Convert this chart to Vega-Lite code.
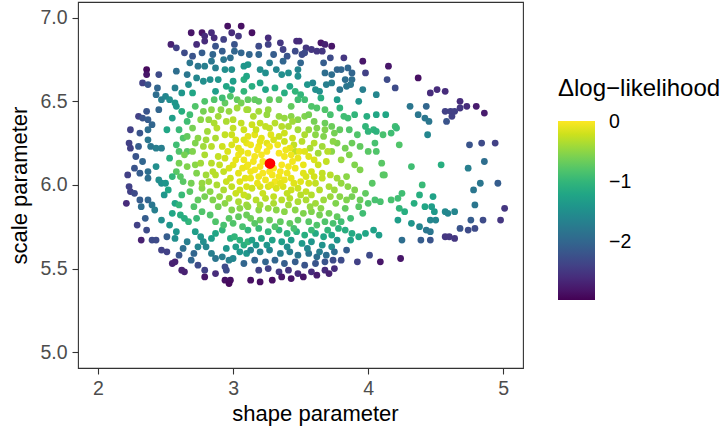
{
"$schema":"https://vega.github.io/schema/vega-lite/v6.json",
"width":445,"height":366,
"autosize":{"type":"none"},
"padding":{"left":78,"top":2,"right":202,"bottom":63},
"config":{
"font":"Liberation Sans",
"view":{"stroke":"#333333","strokeWidth":1.1},
"axis":{"grid":false,"domain":false,"tickColor":"#333333","tickSize":6,"tickWidth":1.1,"labelColor":"#4d4d4d","labelFontSize":19.5,"titleFontSize":22,"titleFontWeight":"normal","titleColor":"black","labelPadding":5},
"legend":{"orient":"none","legendX":480,"legendY":75,"gradientLength":179,"gradientThickness":37,"gradientStrokeWidth":0,"titleFontSize":24,"titleFontWeight":"normal","titleColor":"black","labelFontSize":19.5,"labelColor":"black","labelOffset":14,"titlePadding":20,"direction":"vertical"}
},
"datasets":{
"pts":[
{"x":2.69,"y":6.91,"d":-2.8},{"x":2.77,"y":6.91,"d":-2.8},{"x":2.79,"y":6.89,"d":-2.6},{"x":2.84,"y":6.91,"d":-2.6},{"x":2.86,"y":6.88,"d":-2.6},{"x":2.96,"y":6.95,"d":-2.85},{"x":2.99,"y":6.91,"d":-2.6},{"x":3.06,"y":6.95,"d":-2.85},{"x":3.04,"y":6.89,"d":-2.5},{"x":2.54,"y":6.84,"d":-2.7},{"x":2.58,"y":6.82,"d":-2.4},{"x":2.73,"y":6.84,"d":-2.6},{"x":2.79,"y":6.86,"d":-2.6},{"x":2.87,"y":6.83,"d":-2.2},{"x":2.93,"y":6.87,"d":-2.4},{"x":3.01,"y":6.84,"d":-2.2},{"x":3.01,"y":6.8,"d":-2.0},{"x":3.06,"y":6.79,"d":-2.0},{"x":2.64,"y":6.79,"d":-2.3},{"x":2.77,"y":6.79,"d":-2.1},{"x":2.85,"y":6.78,"d":-2.0},{"x":2.84,"y":6.74,"d":-1.8},{"x":2.93,"y":6.75,"d":-1.8},{"x":2.98,"y":6.76,"d":-1.9},{"x":2.68,"y":6.73,"d":-1.8},{"x":2.74,"y":6.71,"d":-1.8},{"x":2.79,"y":6.71,"d":-1.7},{"x":2.87,"y":6.7,"d":-1.7},{"x":2.94,"y":6.69,"d":-1.5},{"x":2.99,"y":6.69,"d":-1.5},{"x":3.08,"y":6.71,"d":-1.4},{"x":2.36,"y":6.69,"d":-2.9},{"x":2.36,"y":6.66,"d":-2.8},{"x":2.45,"y":6.66,"d":-2.3},{"x":2.58,"y":6.68,"d":-1.9},{"x":2.66,"y":6.66,"d":-1.8},{"x":2.73,"y":6.64,"d":-1.6},{"x":2.78,"y":6.62,"d":-1.5},{"x":2.83,"y":6.63,"d":-1.5},{"x":2.89,"y":6.63,"d":-1.4},{"x":3.0,"y":6.62,"d":-1.3},{"x":3.08,"y":6.63,"d":-1.1},{"x":2.33,"y":6.61,"d":-2.4},{"x":2.37,"y":6.6,"d":-2.2},{"x":2.44,"y":6.58,"d":-2.0},{"x":2.57,"y":6.58,"d":-1.7},{"x":2.67,"y":6.6,"d":-1.5},{"x":2.87,"y":6.56,"d":-1.3},{"x":2.99,"y":6.57,"d":-1.2},{"x":3.08,"y":6.56,"d":-1.0},{"x":2.43,"y":6.54,"d":-1.9},{"x":2.47,"y":6.51,"d":-1.7},{"x":2.5,"y":6.53,"d":-1.6},{"x":2.53,"y":6.51,"d":-1.5},{"x":2.57,"y":6.49,"d":-1.4},{"x":2.58,"y":6.47,"d":-1.4},{"x":2.72,"y":6.47,"d":-0.8},{"x":2.79,"y":6.5,"d":-0.8},{"x":2.86,"y":6.51,"d":-0.8},{"x":2.94,"y":6.49,"d":-0.7},{"x":2.98,"y":6.53,"d":-0.8},{"x":3.03,"y":6.51,"d":-0.7},{"x":3.06,"y":6.49,"d":-0.6},{"x":2.36,"y":6.44,"d":-2.2},{"x":2.3,"y":6.41,"d":-2.4},{"x":2.33,"y":6.4,"d":-2.2},{"x":2.37,"y":6.39,"d":-2.1},{"x":2.4,"y":6.36,"d":-2.0},{"x":2.78,"y":6.44,"d":-0.6},{"x":2.84,"y":6.45,"d":-0.5},{"x":2.91,"y":6.45,"d":-0.5},{"x":2.97,"y":6.44,"d":-0.45},{"x":3.03,"y":6.46,"d":-0.4},{"x":3.1,"y":6.45,"d":-0.35},{"x":2.51,"y":6.33,"d":-1.2},{"x":2.24,"y":6.33,"d":-2.4},{"x":2.31,"y":6.31,"d":-2.2},{"x":2.37,"y":6.33,"d":-1.9},{"x":2.76,"y":6.39,"d":-0.5},{"x":2.82,"y":6.39,"d":-0.45},{"x":2.89,"y":6.41,"d":-0.4},{"x":3.0,"y":6.39,"d":-0.3},{"x":3.06,"y":6.37,"d":-0.25},{"x":2.23,"y":6.25,"d":-2.4},{"x":2.24,"y":6.22,"d":-2.4},{"x":2.3,"y":6.23,"d":-2.1},{"x":2.37,"y":6.27,"d":-1.8},{"x":2.39,"y":6.23,"d":-1.8},{"x":2.43,"y":6.22,"d":-1.7},{"x":2.47,"y":6.22,"d":-1.7},{"x":2.58,"y":6.24,"d":-0.9},{"x":2.63,"y":6.28,"d":-0.8},{"x":2.66,"y":6.29,"d":-0.7},{"x":2.74,"y":6.28,"d":-0.5},{"x":2.81,"y":6.32,"d":-0.4},{"x":2.88,"y":6.34,"d":-0.3},{"x":2.87,"y":6.28,"d":-0.35},{"x":2.94,"y":6.3,"d":-0.25},{"x":2.99,"y":6.3,"d":-0.2},{"x":2.78,"y":6.23,"d":-0.4},{"x":2.84,"y":6.23,"d":-0.3},{"x":2.92,"y":6.23,"d":-0.2},{"x":2.99,"y":6.24,"d":-0.15},{"x":3.04,"y":6.22,"d":-0.1},{"x":3.1,"y":6.25,"d":-0.08},{"x":2.66,"y":6.2,"d":-0.75},{"x":2.6,"y":6.2,"d":-0.8},
{"x":3.14,"y":6.91,"d":-2.85},{"x":3.26,"y":6.88,"d":-2.6},{"x":3.35,"y":6.85,"d":-2.5},{"x":3.47,"y":6.86,"d":-2.6},{"x":3.49,"y":6.86,"d":-2.6},{"x":3.65,"y":6.85,"d":-2.8},{"x":3.68,"y":6.84,"d":-2.7},{"x":3.73,"y":6.83,"d":-2.8},{"x":3.26,"y":6.84,"d":-2.4},{"x":3.19,"y":6.83,"d":-2.3},{"x":3.37,"y":6.81,"d":-2.4},{"x":3.54,"y":6.82,"d":-2.5},{"x":3.58,"y":6.81,"d":-2.5},{"x":3.62,"y":6.8,"d":-2.5},{"x":3.66,"y":6.8,"d":-2.5},{"x":3.4,"y":6.77,"d":-2.2},{"x":3.51,"y":6.78,"d":-2.3},{"x":3.53,"y":6.79,"d":-2.3},{"x":3.19,"y":6.78,"d":-2.0},{"x":3.82,"y":6.76,"d":-2.5},{"x":3.96,"y":6.74,"d":-2.8},{"x":3.37,"y":6.74,"d":-2.0},{"x":3.5,"y":6.73,"d":-2.0},{"x":3.67,"y":6.73,"d":-2.1},{"x":3.11,"y":6.72,"d":-1.4},{"x":3.27,"y":6.73,"d":-1.7},{"x":3.2,"y":6.69,"d":-1.5},{"x":3.24,"y":6.67,"d":-1.5},{"x":3.32,"y":6.69,"d":-1.6},{"x":3.36,"y":6.66,"d":-1.5},{"x":3.41,"y":6.67,"d":-1.5},{"x":3.48,"y":6.69,"d":-1.6},{"x":3.48,"y":6.65,"d":-1.5},{"x":3.68,"y":6.67,"d":-1.9},{"x":3.73,"y":6.66,"d":-1.9},{"x":3.77,"y":6.69,"d":-2.0},{"x":3.8,"y":6.69,"d":-2.0},{"x":3.85,"y":6.7,"d":-2.0},{"x":3.88,"y":6.67,"d":-2.0},{"x":3.98,"y":6.67,"d":-2.4},{"x":3.1,"y":6.65,"d":-1.2},{"x":3.83,"y":6.63,"d":-1.9},{"x":3.88,"y":6.63,"d":-1.9},{"x":3.59,"y":6.61,"d":-1.6},{"x":3.61,"y":6.57,"d":-1.5},{"x":3.64,"y":6.56,"d":-1.5},{"x":3.69,"y":6.6,"d":-1.7},{"x":3.73,"y":6.61,"d":-1.7},{"x":3.79,"y":6.57,"d":-1.8},{"x":3.84,"y":6.59,"d":-1.8},{"x":3.87,"y":6.6,"d":-1.8},{"x":3.14,"y":6.59,"d":-1.1},{"x":3.2,"y":6.61,"d":-1.2},{"x":3.24,"y":6.57,"d":-1.2},{"x":3.31,"y":6.58,"d":-1.1},{"x":3.46,"y":6.56,"d":-1.0},{"x":3.5,"y":6.54,"d":-1.0},{"x":3.48,"y":6.51,"d":-0.9},{"x":3.53,"y":6.51,"d":-0.9},{"x":4.06,"y":6.54,"d":-1.6},{"x":3.77,"y":6.51,"d":-1.3},{"x":3.93,"y":6.5,"d":-1.4},{"x":3.11,"y":6.51,"d":-0.7},{"x":3.16,"y":6.51,"d":-0.7},{"x":3.19,"y":6.5,"d":-0.7},{"x":3.27,"y":6.51,"d":-0.7},{"x":3.34,"y":6.51,"d":-0.7},{"x":3.62,"y":6.46,"d":-0.8},{"x":3.68,"y":6.45,"d":-0.8},{"x":3.79,"y":6.46,"d":-1.0},{"x":3.82,"y":6.41,"d":-0.9},{"x":3.85,"y":6.4,"d":-0.9},{"x":3.99,"y":6.41,"d":-1.1},{"x":4.06,"y":6.42,"d":-1.2},{"x":3.11,"y":6.45,"d":-0.4},{"x":3.19,"y":6.44,"d":-0.4},{"x":3.26,"y":6.45,"d":-0.45},{"x":3.34,"y":6.41,"d":-0.45},{"x":3.38,"y":6.4,"d":-0.45},{"x":3.43,"y":6.41,"d":-0.5},{"x":3.48,"y":6.39,"d":-0.5},{"x":3.53,"y":6.41,"d":-0.55},{"x":3.56,"y":6.42,"d":-0.6},{"x":3.68,"y":6.37,"d":-0.65},{"x":3.73,"y":6.35,"d":-0.65},{"x":3.79,"y":6.33,"d":-0.7},{"x":3.98,"y":6.35,"d":-1.0},{"x":4.0,"y":6.32,"d":-1.0},{"x":4.04,"y":6.33,"d":-1.0},{"x":4.06,"y":6.32,"d":-1.05},{"x":3.92,"y":6.3,"d":-0.8},{"x":3.14,"y":6.36,"d":-0.2},{"x":3.2,"y":6.37,"d":-0.25},{"x":3.24,"y":6.35,"d":-0.25},{"x":3.31,"y":6.37,"d":-0.3},{"x":3.36,"y":6.35,"d":-0.3},{"x":3.41,"y":6.35,"d":-0.35},{"x":3.48,"y":6.33,"d":-0.4},{"x":3.56,"y":6.33,"d":-0.45},{"x":3.61,"y":6.3,"d":-0.5},{"x":3.67,"y":6.29,"d":-0.55},{"x":3.75,"y":6.31,"d":-0.6},{"x":3.77,"y":6.25,"d":-0.55},{"x":3.11,"y":6.29,"d":-0.1},{"x":3.16,"y":6.3,"d":-0.1},{"x":3.21,"y":6.28,"d":-0.1},{"x":3.13,"y":6.24,"d":-0.05},{"x":3.19,"y":6.23,"d":-0.05},{"x":3.25,"y":6.25,"d":-0.1},{"x":3.3,"y":6.27,"d":-0.15},{"x":3.34,"y":6.29,"d":-0.2},{"x":3.38,"y":6.26,"d":-0.2},{"x":3.45,"y":6.24,"d":-0.25},{"x":3.51,"y":6.26,"d":-0.3},{"x":3.46,"y":6.2,"d":-0.25},{"x":3.57,"y":6.22,"d":-0.35},{"x":3.66,"y":6.23,"d":-0.4},{"x":3.63,"y":6.19,"d":-0.4},{"x":3.73,"y":6.2,"d":-0.5},{"x":3.83,"y":6.22,"d":-0.6},{"x":3.88,"y":6.25,"d":-0.65},{"x":3.94,"y":6.23,"d":-0.7},{"x":4.0,"y":6.2,"d":-0.75},{"x":4.05,"y":6.25,"d":-0.85},
{"x":4.15,"y":6.71,"d":-2.8},{"x":4.14,"y":6.63,"d":-2.3},{"x":4.2,"y":6.58,"d":-2.3},{"x":4.37,"y":6.64,"d":-2.85},{"x":4.46,"y":6.55,"d":-2.6},{"x":4.51,"y":6.57,"d":-2.6},{"x":4.57,"y":6.56,"d":-2.6},{"x":4.68,"y":6.5,"d":-2.6},{"x":4.73,"y":6.47,"d":-2.6},{"x":4.8,"y":6.47,"d":-2.75},{"x":4.86,"y":6.43,"d":-2.75},{"x":4.68,"y":6.46,"d":-2.5},{"x":4.57,"y":6.44,"d":-2.4},{"x":4.61,"y":6.44,"d":-2.4},{"x":4.64,"y":6.44,"d":-2.4},{"x":4.62,"y":6.41,"d":-2.4},{"x":4.58,"y":6.38,"d":-2.2},{"x":4.31,"y":6.47,"d":-1.8},{"x":4.43,"y":6.47,"d":-2.0},{"x":4.37,"y":6.42,"d":-1.8},{"x":4.42,"y":6.4,"d":-1.8},{"x":4.45,"y":6.38,"d":-1.8},{"x":4.44,"y":6.3,"d":-1.6},{"x":4.13,"y":6.42,"d":-1.2},{"x":4.17,"y":6.31,"d":-0.9},{"x":4.2,"y":6.35,"d":-0.9},{"x":4.21,"y":6.34,"d":-0.95},{"x":4.11,"y":6.3,"d":-0.85},{"x":4.23,"y":6.24,"d":-0.8},{"x":4.75,"y":6.24,"d":-2.2},{"x":4.84,"y":6.25,"d":-2.3},{"x":4.94,"y":6.25,"d":-2.4},{"x":4.06,"y":6.2,"d":-0.8},
{"x":2.22,"y":6.06,"d":-2.4},{"x":2.31,"y":6.07,"d":-2.1},{"x":2.37,"y":6.08,"d":-1.9},{"x":2.37,"y":6.04,"d":-1.9},{"x":2.43,"y":6.11,"d":-1.5},{"x":2.45,"y":6.03,"d":-1.5},{"x":2.47,"y":6.01,"d":-1.5},{"x":2.5,"y":6.01,"d":-1.4},{"x":2.23,"y":5.99,"d":-2.4},{"x":2.24,"y":5.96,"d":-2.4},{"x":2.27,"y":5.95,"d":-2.3},{"x":2.21,"y":5.89,"d":-2.6},{"x":2.31,"y":5.91,"d":-2.1},{"x":2.37,"y":5.91,"d":-2.0},{"x":2.32,"y":5.87,"d":-1.9},{"x":2.4,"y":5.88,"d":-1.8},{"x":2.49,"y":5.94,"d":-1.4},{"x":2.42,"y":5.85,"d":-1.7},{"x":2.57,"y":5.89,"d":-1.2},{"x":2.58,"y":6.08,"d":-0.75},{"x":2.61,"y":6.05,"d":-0.75},{"x":2.63,"y":6.02,"d":-0.75},{"x":2.6,"y":6.13,"d":-0.6},{"x":2.64,"y":6.18,"d":-0.6},{"x":2.66,"y":6.11,"d":-0.55},{"x":2.72,"y":6.12,"d":-0.5},{"x":2.73,"y":6.07,"d":-0.55},{"x":2.69,"y":6.01,"d":-0.6},{"x":2.79,"y":6.18,"d":-0.35},{"x":2.84,"y":6.13,"d":-0.3},{"x":2.89,"y":6.17,"d":-0.25},{"x":2.94,"y":6.16,"d":-0.2},{"x":2.87,"y":6.06,"d":-0.3},{"x":2.93,"y":6.08,"d":-0.25},{"x":2.98,"y":6.04,"d":-0.2},{"x":3.0,"y":6.12,"d":-0.1},{"x":3.04,"y":6.18,"d":-0.05},{"x":3.08,"y":6.15,"d":-0.05},{"x":3.1,"y":6.11,"d":-0.05},{"x":3.04,"y":6.07,"d":-0.1},{"x":3.09,"y":6.04,"d":-0.1},{"x":2.99,"y":5.99,"d":-0.25},{"x":3.05,"y":5.97,"d":-0.2},{"x":3.1,"y":5.99,"d":-0.15},{"x":2.82,"y":6.02,"d":-0.4},{"x":2.88,"y":6.0,"d":-0.35},{"x":2.93,"y":5.97,"d":-0.35},{"x":2.77,"y":5.98,"d":-0.5},{"x":2.8,"y":6.06,"d":-0.4},{"x":2.74,"y":5.91,"d":-0.7},{"x":2.79,"y":5.93,"d":-0.6},{"x":2.85,"y":5.91,"d":-0.55},{"x":2.89,"y":5.87,"d":-0.6},{"x":2.94,"y":5.89,"d":-0.5},{"x":2.99,"y":5.85,"d":-0.55},{"x":3.05,"y":5.86,"d":-0.5},{"x":3.1,"y":5.88,"d":-0.4},{"x":2.71,"y":5.87,"d":-0.8},{"x":2.77,"y":5.84,"d":-0.8},{"x":2.83,"y":5.82,"d":-0.8},{"x":2.73,"y":5.8,"d":-0.95},{"x":2.67,"y":5.78,"d":-1.0},{"x":2.87,"y":5.78,"d":-0.8},{"x":2.97,"y":5.8,"d":-0.75},{"x":3.04,"y":5.81,"d":-0.7},{"x":3.1,"y":5.82,"d":-0.65},{"x":2.55,"y":5.83,"d":-1.2},{"x":2.61,"y":5.82,"d":-1.1},{"x":2.64,"y":5.8,"d":-1.1},{"x":2.47,"y":5.79,"d":-1.5},{"x":2.53,"y":5.76,"d":-1.4},{"x":2.58,"y":5.72,"d":-1.4},{"x":2.57,"y":5.68,"d":-1.5},{"x":2.72,"y":5.72,"d":-1.3},{"x":2.76,"y":5.69,"d":-1.4},{"x":2.78,"y":5.66,"d":-1.5},{"x":2.8,"y":5.63,"d":-1.6},{"x":2.74,"y":5.63,"d":-1.6},{"x":2.84,"y":5.68,"d":-1.3},{"x":2.87,"y":5.71,"d":-1.2},{"x":2.92,"y":5.73,"d":-1.0},{"x":2.98,"y":5.68,"d":-1.1},{"x":3.01,"y":5.69,"d":-1.0},{"x":3.05,"y":5.67,"d":-1.05},{"x":3.08,"y":5.64,"d":-1.1},{"x":3.11,"y":5.66,"d":-1.0},{"x":2.84,"y":5.59,"d":-1.7},{"x":2.87,"y":5.56,"d":-1.8},{"x":2.92,"y":5.57,"d":-1.7},{"x":2.97,"y":5.55,"d":-1.7},{"x":3.0,"y":5.56,"d":-1.6},{"x":3.05,"y":5.6,"d":-1.4},{"x":3.1,"y":5.59,"d":-1.4},{"x":2.36,"y":5.73,"d":-2.3},{"x":2.32,"y":5.67,"d":-2.7},{"x":2.4,"y":5.67,"d":-2.3},{"x":2.43,"y":5.67,"d":-2.3},{"x":2.51,"y":5.69,"d":-2.1},{"x":2.47,"y":5.61,"d":-2.4},{"x":2.51,"y":5.6,"d":-2.4},{"x":2.55,"y":5.53,"d":-2.7},{"x":2.57,"y":5.54,"d":-2.7},{"x":2.62,"y":5.49,"d":-2.7},{"x":2.64,"y":5.48,"d":-2.7},{"x":2.74,"y":5.52,"d":-2.3},{"x":2.79,"y":5.49,"d":-2.4},{"x":2.79,"y":5.45,"d":-2.8},{"x":2.87,"y":5.47,"d":-2.6},{"x":2.94,"y":5.43,"d":-2.85},{"x":2.98,"y":5.43,"d":-2.85},{"x":2.97,"y":5.41,"d":-2.9},{"x":2.94,"y":5.51,"d":-2.3},{"x":2.95,"y":5.49,"d":-2.3},{"x":3.08,"y":5.53,"d":-2.0},{"x":2.71,"y":5.59,"d":-2.0},{"x":2.69,"y":5.55,"d":-2.0},
{"x":3.11,"y":6.19,"d":-0.05},{"x":3.16,"y":6.17,"d":-0.02},{"x":3.21,"y":6.18,"d":-0.02},{"x":3.34,"y":6.19,"d":-0.02},{"x":3.38,"y":6.17,"d":-0.03},{"x":3.43,"y":6.18,"d":-0.05},{"x":3.48,"y":6.16,"d":-0.08},{"x":3.11,"y":6.12,"d":-0.04},{"x":3.16,"y":6.09,"d":-0.02},{"x":3.2,"y":6.11,"d":-0.01},{"x":3.36,"y":6.12,"d":-0.01},{"x":3.41,"y":6.11,"d":-0.03},{"x":3.46,"y":6.1,"d":-0.05},{"x":3.52,"y":6.12,"d":-0.08},{"x":3.13,"y":6.04,"d":-0.08},{"x":3.19,"y":6.05,"d":-0.05},{"x":3.24,"y":6.03,"d":-0.05},{"x":3.29,"y":6.06,"d":-0.03},{"x":3.34,"y":6.05,"d":-0.04},{"x":3.38,"y":6.03,"d":-0.07},{"x":3.43,"y":6.04,"d":-0.08},{"x":3.5,"y":6.02,"d":-0.12},{"x":3.54,"y":6.05,"d":-0.15},{"x":3.14,"y":5.98,"d":-0.2},{"x":3.2,"y":5.99,"d":-0.15},{"x":3.26,"y":5.99,"d":-0.15},{"x":3.32,"y":5.98,"d":-0.15},{"x":3.37,"y":5.99,"d":-0.15},{"x":3.43,"y":5.97,"d":-0.2},{"x":3.48,"y":5.98,"d":-0.2},{"x":3.54,"y":5.96,"d":-0.25},{"x":3.61,"y":6.01,"d":-0.25},{"x":3.66,"y":6.04,"d":-0.25},{"x":3.72,"y":6.06,"d":-0.3},{"x":3.64,"y":5.97,"d":-0.3},{"x":3.71,"y":5.99,"d":-0.35},{"x":3.58,"y":6.08,"d":-0.18},{"x":3.63,"y":6.12,"d":-0.2},{"x":3.56,"y":6.17,"d":-0.12},
{"x":3.22,"y":6.14,"d":-0.01},{"x":3.3,"y":6.1,"d":0.0},{"x":3.25,"y":6.2,"d":-0.02},{"x":3.31,"y":6.02,"d":-0.04},{"x":3.4,"y":6.07,"d":-0.05},{"x":3.42,"y":6.22,"d":-0.08},{"x":3.15,"y":6.14,"d":-0.03},{"x":3.05,"y":6.02,"d":-0.12},{"x":3.52,"y":6.07,"d":-0.12},
{"x":3.8,"y":6.01,"d":-0.45},{"x":3.85,"y":5.99,"d":-0.5},{"x":3.9,"y":5.97,"d":-0.55},{"x":3.79,"y":5.93,"d":-0.5},{"x":3.84,"y":5.91,"d":-0.55},{"x":3.88,"y":5.93,"d":-0.6},{"x":3.94,"y":5.91,"d":-0.65},{"x":3.98,"y":5.95,"d":-0.7},{"x":3.9,"y":6.12,"d":-0.55},{"x":3.94,"y":6.09,"d":-0.55},{"x":4.03,"y":6.01,"d":-0.75},{"x":4.05,"y":5.91,"d":-0.85},{"x":4.0,"y":5.89,"d":-0.8},{"x":3.93,"y":5.87,"d":-0.75},{"x":3.83,"y":5.86,"d":-0.7},{"x":3.96,"y":5.83,"d":-0.9},
{"x":3.11,"y":5.93,"d":-0.3},{"x":3.17,"y":5.91,"d":-0.3},{"x":3.24,"y":5.92,"d":-0.28},{"x":3.3,"y":5.93,"d":-0.25},{"x":3.36,"y":5.91,"d":-0.3},{"x":3.42,"y":5.92,"d":-0.3},{"x":3.48,"y":5.9,"d":-0.35},{"x":3.54,"y":5.91,"d":-0.35},{"x":3.61,"y":5.89,"d":-0.4},{"x":3.67,"y":5.91,"d":-0.42},{"x":3.72,"y":5.93,"d":-0.42},{"x":3.11,"y":5.87,"d":-0.45},{"x":3.19,"y":5.85,"d":-0.5},{"x":3.26,"y":5.86,"d":-0.45},{"x":3.32,"y":5.85,"d":-0.5},{"x":3.38,"y":5.84,"d":-0.5},{"x":3.46,"y":5.85,"d":-0.5},{"x":3.52,"y":5.83,"d":-0.55},{"x":3.58,"y":5.84,"d":-0.55},{"x":3.64,"y":5.82,"d":-0.6},{"x":3.71,"y":5.83,"d":-0.62},{"x":3.77,"y":5.81,"d":-0.7},{"x":3.13,"y":5.8,"d":-0.65},{"x":3.2,"y":5.79,"d":-0.65},{"x":3.27,"y":5.79,"d":-0.65},{"x":3.35,"y":5.78,"d":-0.7},{"x":3.42,"y":5.77,"d":-0.7},{"x":3.48,"y":5.79,"d":-0.7},{"x":3.56,"y":5.78,"d":-0.75},{"x":3.62,"y":5.76,"d":-0.8},{"x":3.68,"y":5.78,"d":-0.8},{"x":3.74,"y":5.77,"d":-0.85},{"x":3.8,"y":5.78,"d":-0.9},{"x":3.87,"y":5.8,"d":-0.9},
{"x":3.83,"y":5.73,"d":-1.1},{"x":3.88,"y":5.71,"d":-1.15},{"x":3.93,"y":5.69,"d":-1.2},{"x":3.87,"y":5.67,"d":-1.25},{"x":3.98,"y":5.71,"d":-1.2},{"x":4.04,"y":5.73,"d":-1.25},
{"x":3.11,"y":5.73,"d":-1.0},{"x":3.19,"y":5.74,"d":-0.95},{"x":3.26,"y":5.72,"d":-1.0},{"x":3.34,"y":5.73,"d":-1.0},{"x":3.4,"y":5.71,"d":-1.05},{"x":3.47,"y":5.72,"d":-1.05},{"x":3.53,"y":5.7,"d":-1.1},{"x":3.61,"y":5.71,"d":-1.15},{"x":3.67,"y":5.69,"d":-1.2},{"x":3.73,"y":5.7,"d":-1.2},{"x":3.14,"y":5.67,"d":-1.25},{"x":3.21,"y":5.68,"d":-1.2},{"x":3.29,"y":5.67,"d":-1.25},{"x":3.36,"y":5.66,"d":-1.3},{"x":3.43,"y":5.67,"d":-1.3},{"x":3.51,"y":5.65,"d":-1.35},{"x":3.58,"y":5.66,"d":-1.4},{"x":3.66,"y":5.64,"d":-1.45},{"x":3.73,"y":5.63,"d":-1.5},{"x":3.77,"y":5.67,"d":-1.4},
{"x":3.13,"y":5.61,"d":-1.6},{"x":3.2,"y":5.6,"d":-1.65},{"x":3.27,"y":5.61,"d":-1.6},{"x":3.35,"y":5.59,"d":-1.7},{"x":3.42,"y":5.6,"d":-1.7},{"x":3.48,"y":5.58,"d":-1.8},{"x":3.56,"y":5.59,"d":-1.8},{"x":3.62,"y":5.57,"d":-1.9},{"x":3.69,"y":5.58,"d":-1.9},{"x":3.75,"y":5.6,"d":-1.9},{"x":3.16,"y":5.55,"d":-2.0},{"x":3.24,"y":5.54,"d":-2.0},{"x":3.31,"y":5.55,"d":-2.0},{"x":3.38,"y":5.53,"d":-2.1},{"x":3.46,"y":5.54,"d":-2.1},{"x":3.53,"y":5.52,"d":-2.2},{"x":3.61,"y":5.53,"d":-2.2},{"x":3.68,"y":5.54,"d":-2.2},{"x":3.74,"y":5.55,"d":-2.3},
{"x":3.19,"y":5.49,"d":-2.4},{"x":3.26,"y":5.5,"d":-2.4},{"x":3.34,"y":5.48,"d":-2.5},{"x":3.41,"y":5.49,"d":-2.5},{"x":3.48,"y":5.47,"d":-2.6},{"x":3.58,"y":5.48,"d":-2.6},{"x":3.68,"y":5.49,"d":-2.6},{"x":3.75,"y":5.5,"d":-2.6},{"x":3.13,"y":5.43,"d":-2.85},{"x":3.2,"y":5.42,"d":-2.85},{"x":3.29,"y":5.43,"d":-2.85},{"x":3.36,"y":5.45,"d":-2.8},{"x":3.43,"y":5.44,"d":-2.8},{"x":3.52,"y":5.45,"d":-2.8},{"x":3.62,"y":5.46,"d":-2.75},{"x":3.71,"y":5.47,"d":-2.7},
{"x":3.84,"y":5.61,"d":-2.1},{"x":3.92,"y":5.54,"d":-2.4},{"x":4.01,"y":5.58,"d":-2.3},{"x":3.8,"y":5.55,"d":-2.3},
{"x":4.1,"y":6.13,"d":-0.75},{"x":4.11,"y":6.06,"d":-0.75},{"x":4.12,"y":6.06,"d":-0.75},{"x":4.32,"y":6.11,"d":-0.9},{"x":4.54,"y":6.12,"d":-1.1},{"x":4.74,"y":6.1,"d":-1.7},{"x":4.86,"y":6.14,"d":-1.9},{"x":4.4,"y":6.0,"d":-0.95},{"x":4.83,"y":6.01,"d":-1.8},{"x":4.96,"y":6.01,"d":-2.1},{"x":4.78,"y":5.97,"d":-1.8},{"x":4.25,"y":5.95,"d":-0.9},{"x":4.38,"y":5.94,"d":-1.1},{"x":4.48,"y":5.93,"d":-1.25},{"x":4.09,"y":5.9,"d":-0.85},{"x":4.17,"y":5.91,"d":-0.85},{"x":4.22,"y":5.92,"d":-0.9},{"x":4.34,"y":5.89,"d":-1.1},{"x":4.42,"y":5.87,"d":-1.2},{"x":4.47,"y":5.87,"d":-1.3},{"x":4.23,"y":5.86,"d":-1.0},{"x":4.27,"y":5.84,"d":-1.1},{"x":4.49,"y":5.84,"d":-1.35},{"x":4.57,"y":5.84,"d":-1.55},{"x":4.59,"y":5.83,"d":-1.6},{"x":4.64,"y":5.84,"d":-1.6},{"x":4.79,"y":5.88,"d":-1.8},{"x":5.01,"y":5.86,"d":-2.5},{"x":4.76,"y":5.79,"d":-2.1},{"x":4.85,"y":5.79,"d":-2.3},{"x":4.98,"y":5.79,"d":-2.5},{"x":4.22,"y":5.79,"d":-1.3},{"x":4.32,"y":5.77,"d":-1.4},{"x":4.38,"y":5.75,"d":-1.6},{"x":4.46,"y":5.79,"d":-1.6},{"x":4.5,"y":5.79,"d":-1.6},{"x":4.43,"y":5.73,"d":-1.8},{"x":4.46,"y":5.72,"d":-1.8},{"x":4.68,"y":5.74,"d":-2.2},{"x":4.74,"y":5.73,"d":-2.3},{"x":4.79,"y":5.74,"d":-2.3},{"x":4.08,"y":5.7,"d":-1.3},{"x":4.57,"y":5.69,"d":-2.5},{"x":4.6,"y":5.69,"d":-2.5},{"x":4.64,"y":5.68,"d":-2.5},{"x":4.25,"y":5.67,"d":-1.9},{"x":4.39,"y":5.67,"d":-2.1},{"x":4.46,"y":5.67,"d":-2.2},{"x":4.09,"y":5.54,"d":-2.8},{"x":4.24,"y":5.56,"d":-2.8},
{"x":2.28,"y":6.17,"d":-2.2},{"x":2.33,"y":6.14,"d":-2.0},{"x":2.27,"y":6.1,"d":-2.2},{"x":2.53,"y":6.16,"d":-1.1},{"x":2.55,"y":6.05,"d":-1.0},{"x":2.52,"y":5.97,"d":-1.2},{"x":2.62,"y":5.94,"d":-0.95},{"x":2.68,"y":5.96,"d":-0.75},{"x":2.6,"y":5.88,"d":-1.0},{"x":2.35,"y":5.8,"d":-2.1},{"x":2.29,"y":5.76,"d":-2.4},{"x":2.63,"y":5.62,"d":-1.9},{"x":2.6,"y":5.58,"d":-2.2},{"x":2.66,"y":5.66,"d":-1.7},{"x":2.45,"y":6.45,"d":-2.0},{"x":2.62,"y":6.44,"d":-1.1},{"x":2.66,"y":6.38,"d":-0.9},{"x":2.55,"y":6.4,"d":-1.3},{"x":2.7,"y":6.55,"d":-1.2},{"x":2.62,"y":6.55,"d":-1.4},{"x":2.68,"y":6.42,"d":-0.9},{"x":2.7,"y":6.34,"d":-0.6},{"x":2.6,"y":6.33,"d":-0.95},{"x":2.95,"y":6.59,"d":-1.2},{"x":2.92,"y":6.52,"d":-0.9},{"x":3.55,"y":6.6,"d":-1.4},{"x":3.42,"y":6.59,"d":-1.2},{"x":3.38,"y":6.55,"d":-1.1},{"x":3.58,"y":6.47,"d":-0.8},{"x":3.72,"y":6.42,"d":-0.85},{"x":3.65,"y":6.52,"d":-1.1},{"x":3.43,"y":6.47,"d":-0.7},{"x":3.25,"y":6.42,"d":-0.45},{"x":3.6,"y":6.38,"d":-0.6},{"x":3.86,"y":6.33,"d":-0.8},{"x":3.9,"y":6.42,"d":-1.0},{"x":3.96,"y":6.57,"d":-1.7},{"x":3.72,"y":6.76,"d":-2.3},{"x":3.46,"y":6.8,"d":-2.3},{"x":3.3,"y":6.78,"d":-2.1},{"x":3.12,"y":6.78,"d":-2.0},{"x":2.92,"y":6.8,"d":-2.1},{"x":2.7,"y":6.77,"d":-2.2},
{"x":3.18,"y":6.21,"d":-0.03},{"x":3.27,"y":6.23,"d":-0.03},{"x":3.33,"y":6.24,"d":-0.05},{"x":3.22,"y":6.07,"d":-0.02},{"x":3.27,"y":6.08,"d":-0.01},{"x":3.35,"y":6.08,"d":-0.02},{"x":3.44,"y":6.14,"d":-0.04},{"x":3.49,"y":6.2,"d":-0.08},{"x":3.39,"y":6.21,"d":-0.05},{"x":3.13,"y":6.08,"d":-0.04},{"x":3.07,"y":6.1,"d":-0.06},{"x":3.06,"y":6.2,"d":-0.08},{"x":3.02,"y":6.15,"d":-0.08},{"x":3.18,"y":6.01,"d":-0.08},{"x":3.28,"y":6.0,"d":-0.1},{"x":3.35,"y":6.01,"d":-0.1},{"x":3.45,"y":6.01,"d":-0.12},{"x":3.56,"y":6.01,"d":-0.18},{"x":3.6,"y":6.05,"d":-0.18},{"x":3.6,"y":6.15,"d":-0.15},{"x":3.53,"y":6.2,"d":-0.12},{"x":3.2,"y":6.26,"d":-0.08},{"x":3.28,"y":6.3,"d":-0.12},{"x":3.38,"y":6.31,"d":-0.2},{"x":3.44,"y":6.28,"d":-0.2},{"x":3.08,"y":6.27,"d":-0.12},{"x":3.02,"y":6.27,"d":-0.15},{"x":2.96,"y":6.2,"d":-0.15},{"x":2.97,"y":6.1,"d":-0.15},{"x":2.95,"y":6.02,"d":-0.22},{"x":3.02,"y":5.95,"d":-0.22},{"x":3.08,"y":5.94,"d":-0.22},{"x":3.22,"y":5.95,"d":-0.22},{"x":3.4,"y":5.95,"d":-0.25},{"x":3.5,"y":5.94,"d":-0.3},{"x":3.58,"y":5.94,"d":-0.32},{"x":3.66,"y":6.07,"d":-0.25},{"x":3.69,"y":6.14,"d":-0.25},{"x":3.7,"y":6.2,"d":-0.3},{"x":3.6,"y":6.25,"d":-0.3},{"x":3.53,"y":6.3,"d":-0.35},
{"x":3.0,"y":6.34,"d":-0.25},{"x":3.08,"y":6.33,"d":-0.2},{"x":3.17,"y":6.33,"d":-0.2},{"x":3.27,"y":6.34,"d":-0.25},{"x":3.44,"y":6.38,"d":-0.4},{"x":3.15,"y":6.41,"d":-0.35},{"x":2.95,"y":6.38,"d":-0.35},{"x":2.86,"y":6.37,"d":-0.35},{"x":2.8,"y":6.27,"d":-0.4},{"x":2.9,"y":6.12,"d":-0.25},{"x":2.85,"y":6.08,"d":-0.3},{"x":2.76,"y":6.13,"d":-0.4},{"x":2.7,"y":6.2,"d":-0.55},{"x":2.72,"y":6.25,"d":-0.55},{"x":2.77,"y":6.01,"d":-0.45},{"x":2.83,"y":5.96,"d":-0.5},{"x":2.9,"y":5.93,"d":-0.45},{"x":2.97,"y":5.92,"d":-0.4},{"x":3.04,"y":5.9,"d":-0.35},{"x":3.2,"y":5.88,"d":-0.4},{"x":3.3,"y":5.89,"d":-0.35},{"x":3.41,"y":5.88,"d":-0.4},{"x":3.57,"y":5.87,"d":-0.45},{"x":3.65,"y":5.86,"d":-0.5},{"x":3.76,"y":5.89,"d":-0.55},{"x":3.75,"y":5.97,"d":-0.42},{"x":3.77,"y":6.04,"d":-0.4},{"x":3.84,"y":6.05,"d":-0.5},{"x":3.8,"y":6.15,"d":-0.45},{"x":3.86,"y":6.18,"d":-0.55},{"x":3.74,"y":6.26,"d":-0.5},{"x":3.68,"y":6.33,"d":-0.55},{"x":3.62,"y":6.34,"d":-0.55},
{"x":3.0,"y":5.77,"d":-0.8},{"x":2.93,"y":5.76,"d":-0.85},{"x":3.07,"y":5.75,"d":-0.85},{"x":3.16,"y":5.77,"d":-0.75},{"x":3.31,"y":5.75,"d":-0.8},{"x":3.45,"y":5.74,"d":-0.85},{"x":3.58,"y":5.73,"d":-0.95},{"x":3.7,"y":5.73,"d":-1.0},{"x":3.78,"y":5.74,"d":-1.05},{"x":2.95,"y":5.62,"d":-1.4},{"x":3.02,"y":5.63,"d":-1.3},{"x":3.17,"y":5.64,"d":-1.4},{"x":3.25,"y":5.64,"d":-1.4},{"x":3.4,"y":5.63,"d":-1.5},{"x":3.55,"y":5.62,"d":-1.6},{"x":3.64,"y":5.6,"d":-1.7}
],
"mle":[{"x":3.273,"y":6.128}]
},
"layer":[
{"data":{"name":"pts"},
"mark":{"type":"circle","size":46,"opacity":1},
"encoding":{
"x":{"field":"x","type":"quantitative","scale":{"domain":[1.852,5.146],"nice":false,"zero":false},"axis":{"values":[2,3,4,5],"format":"d","title":"shape parameter","titlePadding":6,"titleX":237}},
"y":{"field":"y","type":"quantitative","scale":{"domain":[4.905,7.094],"nice":false,"zero":false},"axis":{"values":[5,5.5,6,6.5,7],"format":".1f","title":"scale parameter","titlePadding":8}},
"color":{"field":"d","type":"quantitative","scale":{"scheme":"viridis","domain":[-2.97,0.02]},"legend":{"title":"Δlog−likelihood","values":[0,-1,-2],"format":"d","labelOffset":14}}
}},
{"data":{"name":"mle"},
"mark":{"type":"circle","size":115,"opacity":1,"color":"#FF0000"},
"encoding":{"x":{"field":"x","type":"quantitative"},"y":{"field":"y","type":"quantitative"}}}
]
}
